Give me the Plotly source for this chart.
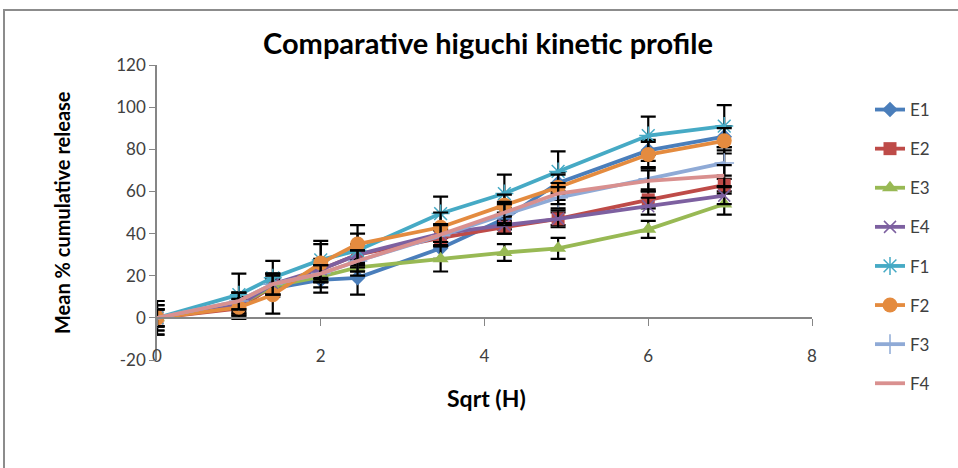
import numpy as np
import plotly.graph_objects as go

hours = [0, 1, 2, 4, 6, 12, 18, 24, 36, 48]
sqrt_h = [h ** 0.5 for h in hours]

series_names = ["E1", "E2", "E3", "E4", "F1", "F2", "F3", "F4"]
E1 = [0, 7, 14, 18, 19, 33, 47, 64, 79.5, 86]
E2 = [0, 4.5, 15, 23, 30, 38, 43, 47, 56, 63]
E3 = [0, 6, 15, 19.5, 24, 28, 31, 33, 42, 54]
E4 = [0, 6, 16, 23, 30, 40, 44, 47, 53, 58]
F1 = [0, 11, 19, 27.5, 32, 49.5, 59, 69.5, 86.5, 91]
F2 = [0, 5, 11, 26, 35, 43, 53.5, 62, 77.5, 84]
F3 = [0, 8, 16, 21, 27, 39, 49, 57, 66, 73.5]
F4 = [0, 8, 16, 21, 27, 39.5, 50, 59, 65, 67.5]

E1_err = [8, 5, 4, 6, 8, 5, 5, 5, 5, 5]
E2_err = [4, 5, 4, 5, 5, 4, 3, 3, 4, 3]
E3_err = [4, 3, 4, 5, 4, 6, 4, 5, 4, 5]
E4_err = [6, 4, 5, 4, 5, 4, 4, 4, 4, 4]
F1_err = [4, 10, 8, 9, 8, 8, 9, 9.5, 9, 10]
F2_err = [8, 4, 9, 9, 9, 7, 5, 6, 6, 6]
F3_err = [6, 4, 5, 4, 5, 5, 5, 5, 5, 6]
F4_err = [4, 4, 5, 4, 5, 5, 5, 5, 5, 5]

x_ticks = [0, 2, 4, 6, 8]
y_ticks = [-20, 0, 20, 40, 60, 80, 100, 120]
y_tick_labels = ["-20", "0", "20", "40", "60", "80", "100", "120"]

values = [E1, E2, E3, E4, F1, F2, F3, F4]
errors = [E1_err, E2_err, E3_err, E4_err, F1_err, F2_err, F3_err, F4_err]

colors = ["#4A7EBB", "#BE4B48", "#98B954", "#7D60A0",
          "#46AAC5", "#E48B3F", "#8FAAD6", "#D9908F"]
symbols = ["diamond", "square", "triangle-up", "x-thin-open",
           "asterisk-open", "circle", "cross-thin-open", None]
sizes = [12, 13, 14, 12, 15, 15, 14, 0]

fig = go.Figure()
for i, name in enumerate(series_names):
    marker = dict(color=colors[i], size=sizes[i])
    mode = "lines+markers"
    if symbols[i] is None:
        mode = "lines"
    else:
        marker["symbol"] = symbols[i]
        if symbols[i].endswith("-open"):
            marker["line"] = dict(color=colors[i], width=1.5)
    fig.add_trace(go.Scatter(
        x=sqrt_h, y=values[i], name=name, mode=mode,
        line=dict(color=colors[i], width=3.8),
        marker=marker,
        legendgroup=name,
        error_y=dict(type="data", array=errors[i], visible=True,
                     color="black", thickness=2.2, width=7.5),
    ))

font_main = "Lato, 'Open Sans', sans-serif"

fig.update_layout(
    width=958, height=468,
    margin=dict(l=157, r=146, t=65, b=108),
    paper_bgcolor="white", plot_bgcolor="white",
    font=dict(family=font_main, size=17, color="#404040"),
    title=dict(text="<b>Comparative higuchi kinetic profile</b>",
               x=(488 - 157) / 655, xanchor="center", xref="paper",
               y=1 - 44 / 468, yanchor="middle",
               font=dict(size=29, color="black", family=font_main)),
    xaxis=dict(range=[0, 8], tickvals=x_ticks,
               showgrid=False, zeroline=False,
               showline=True, linecolor="#868686", linewidth=1.5,
               ticks="outside", ticklen=7, tickcolor="#868686",
               anchor="free", position=1 / 7,
               ticklabelstandoff=16,
               tickfont=dict(size=17, color="#404040")),
    yaxis=dict(range=[-20, 120], tickvals=y_ticks, ticktext=y_tick_labels,
               showgrid=False, zeroline=False,
               showline=True, linecolor="#868686", linewidth=1.5,
               ticks="outside", ticklen=6, tickcolor="#868686",
               tickfont=dict(size=17, color="#404040")),
    legend=dict(x=(870 - 157) / 655, y=(360 - 92) / 295,
                xanchor="left", yanchor="top",
                traceorder="grouped", tracegroupgap=14,
                maxheight=420,
                font=dict(size=17, color="#404040"),
                bgcolor="rgba(0,0,0,0)"),
    showlegend=True,
)

fig.add_annotation(text="<b>Sqrt (H)</b>", xref="paper", yref="paper",
                   x=(486 - 157) / 655, y=(360 - 398) / 295,
                   showarrow=False, xanchor="center", yanchor="middle",
                   font=dict(size=23, color="black", family=font_main))
fig.add_annotation(text="<b>Mean % cumulative release</b>", xref="paper", yref="paper",
                   x=(62 - 157) / 655, y=(360 - 213) / 295, textangle=-90,
                   showarrow=False, xanchor="center", yanchor="middle",
                   font=dict(size=20, color="black", family=font_main))

fig.add_shape(type="rect", xref="paper", yref="paper",
              x0=(4 - 157) / 655, x1=(970 - 157) / 655,
              y0=(360 - 480) / 295, y1=(360 - 10) / 295,
              line=dict(color="#8C8C8C", width=2), fillcolor="rgba(0,0,0,0)",
              layer="below")

fig.write_html("out.html")
